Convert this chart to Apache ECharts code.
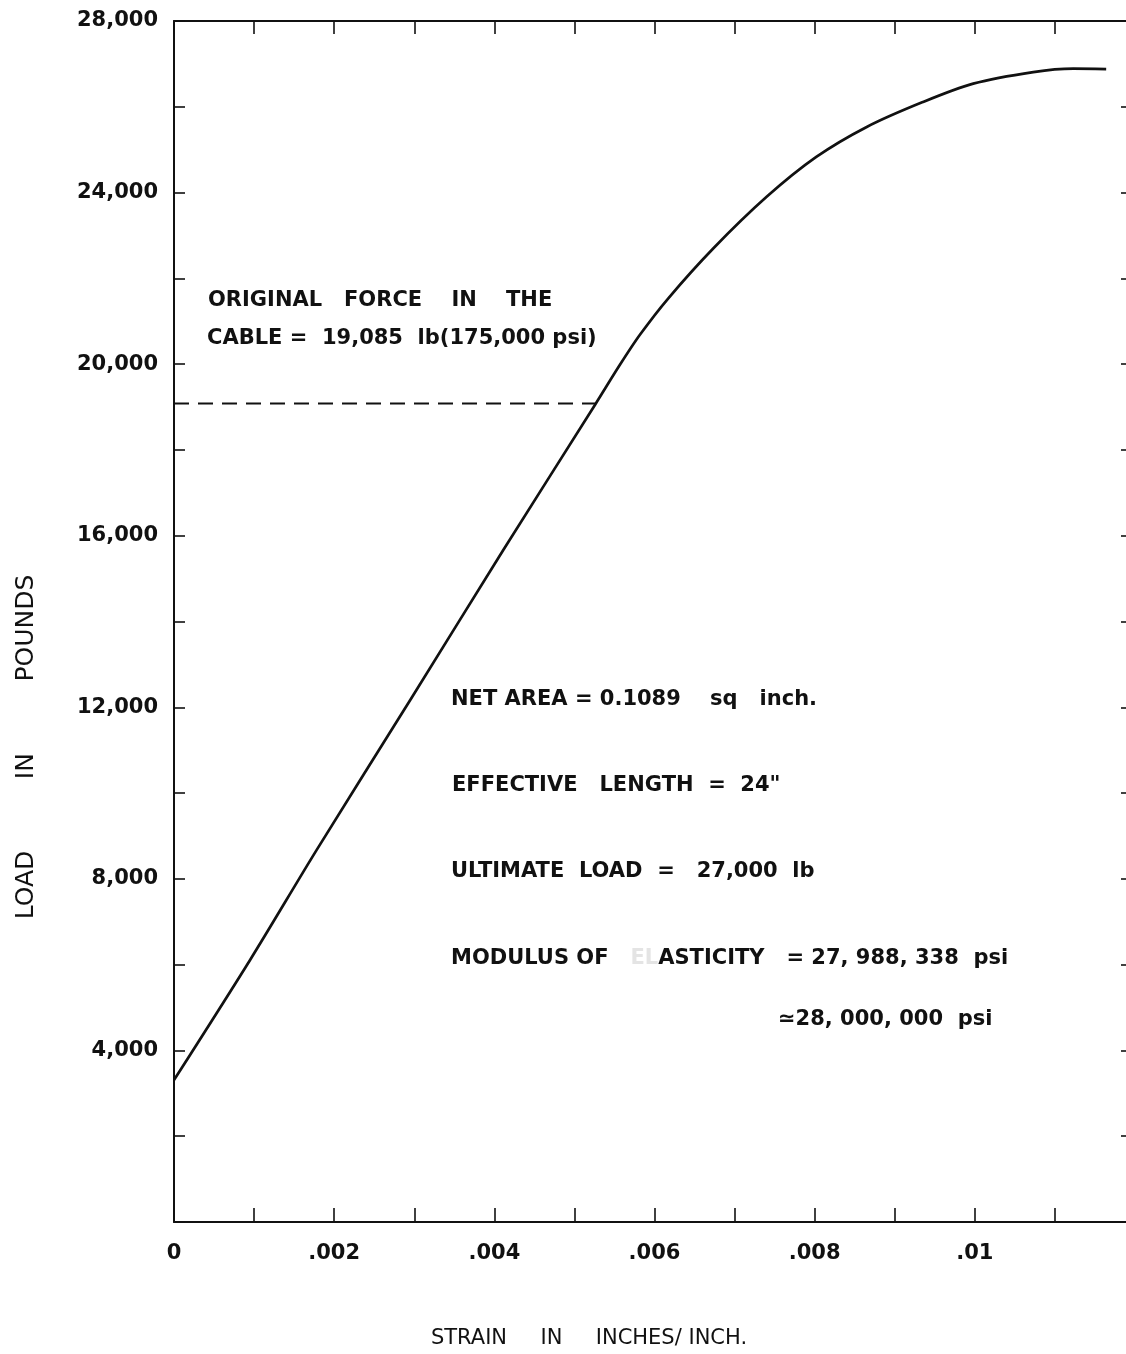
<!DOCTYPE html>
<html>
<head>
<meta charset="utf-8">
<script src="https://cdn.jsdelivr.net/npm/echarts@6/dist/echarts.min.js"></script>
<style>
html,body{margin:0;padding:0;background:#fff;}
#chart{width:1126px;height:1354px;}
</style>
</head>
<body>
<div id="chart"></div>
<script>
// Data
const strain = [0, 0.00095, 0.00178, 0.00295, 0.00411, 0.00526, 0.00557, 0.00582, 0.00617, 0.00673, 0.0074, 0.00802, 0.00865, 0.00935, 0.00998, 0.01073, 0.01123, 0.01164];
const load   = [3310, 6110, 8670, 12170, 15660, 19060, 19990, 20690, 21530, 22690, 23900, 24830, 25530, 26110, 26540, 26810, 26890, 26880];
const originalForce = 19085;
const forceLineStrain = [0, 0.00526];
const xTickLabels = {0: '0', 2: '.002', 4: '.004', 6: '.006', 8: '.008', 10: '.01'};
const yTickLabels = {4000: '4,000', 8000: '8,000', 12000: '12,000', 16000: '16,000', 20000: '20,000', 24000: '24,000', 28000: '28,000'};

const FONT = '"DejaVu Sans", sans-serif';
const INK = '#111';

const chart = echarts.init(document.getElementById('chart'), null, {renderer: 'canvas'});

function axisLine() { return {show: true, onZero: false, lineStyle: {color: INK, width: 2}}; }
function tick(len) { return {show: true, inside: true, length: len, lineStyle: {color: INK, width: 1.6}}; }

const annoFont = 'bold 21px ' + FONT;

const option = {
  backgroundColor: '#fff',
  animation: false,
  grid: {left: 174, top: 21, width: 961, height: 1201, containLabel: false, outerBoundsMode: 'none'},
  xAxis: [
    {
      type: 'value', position: 'bottom', min: 0, max: 0.012, interval: 0.001,
      axisLine: axisLine(), axisTick: tick(14), splitLine: {show: false},
      axisLabel: {
        margin: 21, color: INK, fontFamily: FONT, fontSize: 21, fontWeight: 'bold',
        formatter: function (v) { const k = Math.round(v * 1000); return xTickLabels[k] !== undefined ? xTickLabels[k] : ''; }
      }
    },
    {
      type: 'value', position: 'top', min: 0, max: 0.012, interval: 0.001,
      axisLine: axisLine(), axisTick: tick(13), splitLine: {show: false}, axisLabel: {show: false}
    }
  ],
  yAxis: [
    {
      type: 'value', position: 'left', min: 0, max: 28000, interval: 2000,
      axisLine: axisLine(), axisTick: tick(11), splitLine: {show: false},
      axisLabel: {
        margin: 16, color: INK, fontFamily: FONT, fontSize: 21, fontWeight: 'bold',
        formatter: function (v) { return yTickLabels[v] || ''; }
      }
    },
    {
      type: 'value', position: 'right', min: 0, max: 28000, interval: 2000,
      axisLine: axisLine(), axisTick: tick(14), splitLine: {show: false}, axisLabel: {show: false}
    }
  ],
  series: [
    {
      type: 'line', xAxisIndex: 0, yAxisIndex: 0,
      data: strain.map((s, i) => [s, load[i]]),
      smooth: 0.3, showSymbol: false, symbol: 'none',
      lineStyle: {color: INK, width: 2.7}
    },
    {
      type: 'line', xAxisIndex: 0, yAxisIndex: 0,
      data: forceLineStrain.map(s => [s, originalForce]),
      showSymbol: false, symbol: 'none',
      lineStyle: {color: INK, width: 2, type: [15, 9]}
    }
  ],
  graphic: [
    {type: 'text', left: 208, top: 290, style: {text: 'ORIGINAL   FORCE    IN    THE', font: annoFont, fill: INK}},
    {type: 'text', left: 207, top: 328, style: {text: 'CABLE =  19,085  lb(175,000 psi)', font: annoFont, fill: INK}},
    {type: 'text', left: 451, top: 689, style: {text: 'NET AREA = 0.1089    sq   inch.', font: annoFont, fill: INK}},
    {type: 'text', left: 452, top: 775, style: {text: 'EFFECTIVE   LENGTH  =  24"', font: annoFont, fill: INK}},
    {type: 'text', left: 451, top: 861, style: {text: 'ULTIMATE  LOAD  =   27,000  lb', font: annoFont, fill: INK}},
    {type: 'text', left: 451, top: 948, style: {rich: {a: {font: annoFont, fill: INK}, f: {font: annoFont, fill: '#e4e4e4'}}, text: '{a|MODULUS OF   }{f|EL}{a|ASTICITY   = 27, 988, 338  psi}'}},
    {type: 'text', left: 778, top: 1009, style: {text: '\u224328, 000, 000  psi', font: annoFont, fill: INK}},
    {type: 'text', x: 589, y: 1339, style: {text: 'STRAIN     IN     INCHES/ INCH.', font: '21px ' + FONT, fill: INK, align: 'center', verticalAlign: 'middle'}},
    {type: 'text', x: 26, y: 747, rotation: Math.PI / 2, style: {text: 'LOAD         IN         POUNDS', font: '25px ' + FONT, fill: INK, align: 'center', verticalAlign: 'middle'}}
  ]
};
chart.setOption(option);
</script>
</body>
</html>
